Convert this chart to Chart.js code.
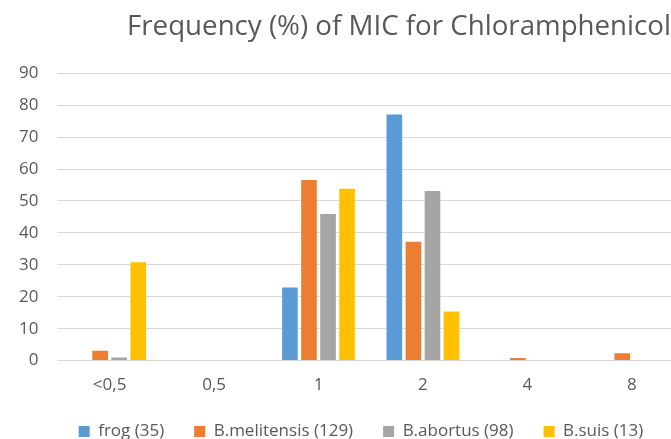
<!DOCTYPE html>
<html>
<head>
<meta charset="utf-8">
<script src="https://cdn.jsdelivr.net/npm/chart.js@4.4.1/dist/chart.umd.min.js"></script>
<style>
  html, body { margin: 0; padding: 0; background: #fff; overflow: hidden; }
  #wrap { width: 722px; height: 439px; }
</style>
</head>
<body>
<div id="wrap"><canvas id="myChart" width="722" height="439"></canvas></div>
<script>
var categories = ['<0,5', '0,5', '1', '2', '4', '8'];
var seriesNames = ['frog (35)', 'B.melitensis (129)', 'B.abortus (98)', 'B.suis (13)'];
var frogValues = [0, 0, 22.9, 77.1, 0, 0];
var melitensisValues = [3.1, 0, 56.6, 37.2, 0.8, 2.3];
var abortusValues = [1.0, 0, 45.9, 53.1, 0, 0];
var suisValues = [30.8, 0, 53.8, 15.4, 0, 0];
var colors = ['#5B9BD5', '#ED7D31', '#A5A5A5', '#FFC000'];

var fontName = "'Open Sans', 'DejaVu Sans', sans-serif";

// title and legend are not centred on the plot in the original
var shiftBlocks = {
    id: 'shiftBlocks',
    afterLayout: function(chart) {
        if (chart.titleBlock) {
            chart.titleBlock.left += 57;
            chart.titleBlock.right += 57;
        }
        if (chart.legend) {
            chart.legend.left += 19;
            chart.legend.right += 19;
            chart.legend.top -= 16;
            chart.legend.bottom -= 16;
        }
    }
};

var allValues = [frogValues, melitensisValues, abortusValues, suisValues];
var datasets = [];
for (var i = 0; i < seriesNames.length; i++) {
    datasets.push({
        label: seriesNames[i],
        data: allValues[i],
        backgroundColor: colors[i],
        borderWidth: 0,
        categoryPercentage: 0.73,
        barPercentage: 0.82
    });
}

var ctx = document.getElementById('myChart').getContext('2d');
var chart = new Chart(ctx, {
    type: 'bar',
    data: { labels: categories, datasets: datasets },
    options: {
        responsive: false,
        animation: false,
        devicePixelRatio: 1,
        layout: { padding: { left: 0, right: 38, top: 10, bottom: -27 } },
        plugins: {
            title: {
                display: true,
                text: 'Frequency (%) of MIC for Chloramphenicol',
                color: '#595959',
                font: { family: fontName, size: 27.7, weight: 'normal' },
                padding: { top: 0, bottom: 30 }
            },
            legend: {
                position: 'bottom',
                labels: {
                    color: '#595959',
                    font: { family: fontName, size: 17 },
                    boxWidth: 11,
                    boxHeight: 11,
                    padding: 30
                }
            },
            tooltip: { enabled: false }
        },
        scales: {
            x: {
                grid: { display: false, drawTicks: false },
                border: { color: '#D9D9D9', width: 1 },
                ticks: {
                    color: '#595959',
                    font: { family: fontName, size: 17 },
                    padding: 14
                }
            },
            y: {
                min: 0,
                max: 90,
                grid: { color: '#D9D9D9', drawTicks: false },
                border: { display: false },
                ticks: {
                    stepSize: 10,
                    color: '#595959',
                    font: { family: fontName, size: 17 },
                    padding: 19
                }
            }
        }
    },
    plugins: [shiftBlocks]
});
</script>
</body>
</html>
